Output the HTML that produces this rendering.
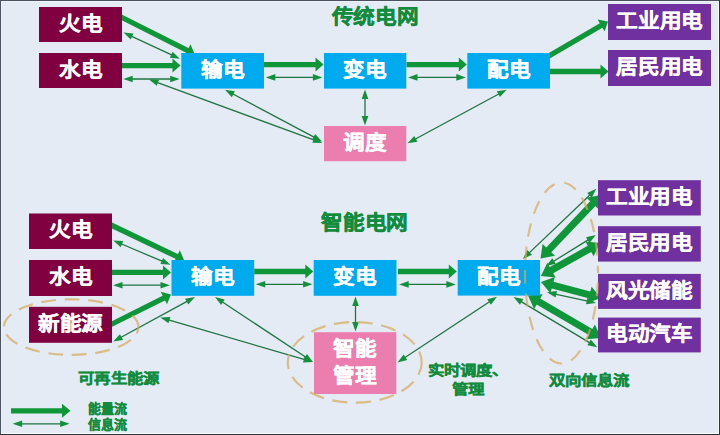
<!DOCTYPE html>
<html lang="zh-CN"><head><meta charset="utf-8"><title>传统电网与智能电网</title>
<style>
html,body{margin:0;padding:0;background:#e5ebf5;}
body{width:720px;height:435px;overflow:hidden;position:relative;}
svg{display:block;position:absolute;left:0;top:0;font-family:"Liberation Sans",sans-serif;}
</style></head><body>
<svg width="720" height="435" viewBox="0 0 720 435">
<rect x="0" y="0" width="720" height="435" fill="#e5ebf5"/>
<text x="0" y="7.78" transform="translate(375 16.6) scale(1 0.95)" font-size="21.6" fill="#128b3d" stroke="#128b3d" stroke-width="0.5" font-weight="bold" text-anchor="middle">传统电网</text>
<line x1="121.00" y1="17.00" x2="188.25" y2="50.85" stroke="#0f9639" stroke-width="5.3"/>
<polygon points="194.50,54.00 184.21,56.66 190.50,44.15" fill="#0f9639"/>
<line x1="131.21" y1="36.19" x2="172.09" y2="55.21" stroke="#1f7440" stroke-width="1.3"/>
<polygon points="179.80,58.80 169.79,57.78 172.58,51.80" fill="#13903b"/>
<polygon points="123.50,32.60 133.51,33.62 130.72,39.60" fill="#13903b"/>
<line x1="122.00" y1="65.60" x2="173.50" y2="65.60" stroke="#0f9639" stroke-width="5.3"/>
<polygon points="180.50,65.60 172.50,72.60 172.50,58.60" fill="#0f9639"/>
<line x1="131.70" y1="79.00" x2="171.20" y2="79.00" stroke="#1f7440" stroke-width="1.3"/>
<polygon points="179.70,79.00 170.20,82.30 170.20,75.70" fill="#13903b"/>
<polygon points="123.20,79.00 132.70,75.70 132.70,82.30" fill="#13903b"/>
<line x1="156.98" y1="82.42" x2="314.42" y2="140.08" stroke="#1f7440" stroke-width="1.3"/>
<polygon points="322.40,143.00 312.34,142.83 314.61,136.63" fill="#13903b"/>
<polygon points="149.00,79.50 159.06,79.67 156.79,85.87" fill="#13903b"/>
<line x1="232.50" y1="93.79" x2="314.50" y2="137.41" stroke="#1f7440" stroke-width="1.3"/>
<polygon points="322.00,141.40 312.06,139.85 315.16,134.02" fill="#13903b"/>
<polygon points="225.00,89.80 234.94,91.35 231.84,97.18" fill="#13903b"/>
<line x1="264.00" y1="64.60" x2="316.50" y2="64.60" stroke="#0f9639" stroke-width="5.3"/>
<polygon points="323.50,64.60 315.50,71.60 315.50,57.60" fill="#0f9639"/>
<line x1="274.30" y1="77.40" x2="313.90" y2="77.40" stroke="#1f7440" stroke-width="1.3"/>
<polygon points="322.40,77.40 312.90,80.70 312.90,74.10" fill="#13903b"/>
<polygon points="265.80,77.40 275.30,74.10 275.30,80.70" fill="#13903b"/>
<line x1="406.50" y1="64.60" x2="459.80" y2="64.60" stroke="#0f9639" stroke-width="5.3"/>
<polygon points="466.80,64.60 458.80,71.60 458.80,57.60" fill="#0f9639"/>
<line x1="416.50" y1="77.40" x2="457.30" y2="77.40" stroke="#1f7440" stroke-width="1.3"/>
<polygon points="465.80,77.40 456.30,80.70 456.30,74.10" fill="#13903b"/>
<polygon points="408.00,77.40 417.50,74.10 417.50,80.70" fill="#13903b"/>
<line x1="365.00" y1="98.10" x2="365.00" y2="116.90" stroke="#1f7440" stroke-width="1.3"/>
<polygon points="365.00,125.40 361.70,115.90 368.30,115.90" fill="#13903b"/>
<polygon points="365.00,89.60 368.30,99.10 361.70,99.10" fill="#13903b"/>
<line x1="414.98" y1="139.26" x2="499.22" y2="93.74" stroke="#1f7440" stroke-width="1.3"/>
<polygon points="506.70,89.70 499.91,97.12 496.77,91.31" fill="#13903b"/>
<polygon points="407.50,143.30 414.29,135.88 417.43,141.69" fill="#13903b"/>
<line x1="548.00" y1="56.50" x2="601.95" y2="25.03" stroke="#0f9639" stroke-width="5.3"/>
<polygon points="608.00,21.50 604.62,31.58 597.56,19.48" fill="#0f9639"/>
<line x1="550.00" y1="71.50" x2="601.50" y2="71.50" stroke="#0f9639" stroke-width="5.3"/>
<polygon points="608.50,71.50 600.50,78.50 600.50,64.50" fill="#0f9639"/>
<rect x="39" y="7" width="83.00" height="35.00" fill="#800040"/>
<text x="0" y="7.78" transform="translate(80.5 23.4) scale(1 0.93)" font-size="21.6" fill="#fff" stroke="#fff" stroke-width="0.35" font-weight="bold" text-anchor="middle">火电</text>
<rect x="39" y="53" width="83.00" height="35.00" fill="#800040"/>
<text x="0" y="7.78" transform="translate(80.5 69.4) scale(1 0.93)" font-size="21.6" fill="#fff" stroke="#fff" stroke-width="0.35" font-weight="bold" text-anchor="middle">水电</text>
<rect x="181.3" y="53" width="82.70" height="35.60" fill="#00aaee"/>
<text x="0" y="7.78" transform="translate(222.65 69.7) scale(1 0.93)" font-size="21.6" fill="#fff" stroke="#fff" stroke-width="0.35" font-weight="bold" text-anchor="middle">输电</text>
<rect x="324" y="53" width="82.30" height="35.60" fill="#00aaee"/>
<text x="0" y="7.78" transform="translate(365.15 69.7) scale(1 0.93)" font-size="21.6" fill="#fff" stroke="#fff" stroke-width="0.35" font-weight="bold" text-anchor="middle">变电</text>
<rect x="467.3" y="53" width="82.70" height="35.60" fill="#00aaee"/>
<text x="0" y="7.78" transform="translate(508.65 69.7) scale(1 0.93)" font-size="21.6" fill="#fff" stroke="#fff" stroke-width="0.35" font-weight="bold" text-anchor="middle">配电</text>
<rect x="324" y="126" width="82.30" height="35.20" fill="#eb7eae"/>
<text x="0" y="7.78" transform="translate(365.15 142.5) scale(1 0.93)" font-size="21.6" fill="#fff" stroke="#fff" stroke-width="0.35" font-weight="bold" text-anchor="middle">调度</text>
<rect x="608" y="4" width="103.00" height="36.00" fill="#7030a0"/>
<text x="0" y="7.78" transform="translate(659.5 20.9) scale(1 0.93)" font-size="21.6" fill="#fff" stroke="#fff" stroke-width="0.35" font-weight="bold" text-anchor="middle">工业用电</text>
<rect x="608" y="50" width="103.00" height="36.00" fill="#7030a0"/>
<text x="0" y="7.78" transform="translate(659.5 66.9) scale(1 0.93)" font-size="21.6" fill="#fff" stroke="#fff" stroke-width="0.35" font-weight="bold" text-anchor="middle">居民用电</text>
<text x="0" y="7.78" transform="translate(364.5 222.2) scale(1 0.95)" font-size="21.6" fill="#128b3d" stroke="#128b3d" stroke-width="0.5" font-weight="bold" text-anchor="middle">智能电网</text>
<text x="0" y="5.90" transform="translate(118.6 378.2) scale(1 0.86)" font-size="16.4" fill="#128b3d" stroke="#128b3d" stroke-width="0.4" font-weight="bold" text-anchor="middle">可再生能源</text>
<text x="0" y="5.90" transform="translate(468 369.7) scale(1 0.86)" font-size="16.4" fill="#128b3d" stroke="#128b3d" stroke-width="0.4" font-weight="bold" text-anchor="middle">实时调度、</text>
<text x="0" y="5.90" transform="translate(468.3 388.7) scale(1 0.86)" font-size="16.4" fill="#128b3d" stroke="#128b3d" stroke-width="0.4" font-weight="bold" text-anchor="middle">管理</text>
<text x="0" y="5.90" transform="translate(589 380) scale(1 0.86)" font-size="16.4" fill="#128b3d" stroke="#128b3d" stroke-width="0.4" font-weight="bold" text-anchor="middle">双向信息流</text>
<line x1="11.00" y1="410.80" x2="63.00" y2="410.80" stroke="#0f9639" stroke-width="5.3"/>
<polygon points="70.50,410.80 62.00,417.80 62.00,403.80" fill="#0f9639"/>
<line x1="21.10" y1="423.80" x2="61.10" y2="423.80" stroke="#1f7440" stroke-width="1.3"/>
<polygon points="69.60,423.80 60.10,427.10 60.10,420.50" fill="#13903b"/>
<polygon points="12.60,423.80 22.10,420.50 22.10,427.10" fill="#13903b"/>
<text x="0" y="4.68" transform="translate(107.5 408.7) scale(1 1.0)" font-size="13" fill="#128b3d" stroke="#128b3d" stroke-width="0.25" font-weight="bold" text-anchor="middle">能量流</text>
<text x="0" y="4.68" transform="translate(107.5 424.6) scale(1 1.0)" font-size="13" fill="#128b3d" stroke="#128b3d" stroke-width="0.25" font-weight="bold" text-anchor="middle">信息流</text>
<line x1="111.00" y1="225.00" x2="177.69" y2="256.97" stroke="#0f9639" stroke-width="5.3"/>
<polygon points="184.00,260.00 173.76,262.85 179.81,250.23" fill="#0f9639"/>
<line x1="121.02" y1="243.73" x2="162.68" y2="261.47" stroke="#1f7440" stroke-width="1.3"/>
<polygon points="170.50,264.80 160.47,264.11 163.05,258.04" fill="#13903b"/>
<polygon points="113.20,240.40 123.23,241.09 120.65,247.16" fill="#13903b"/>
<line x1="112.00" y1="272.40" x2="164.00" y2="272.40" stroke="#0f9639" stroke-width="5.3"/>
<polygon points="171.00,272.40 163.00,279.40 163.00,265.40" fill="#0f9639"/>
<line x1="121.50" y1="285.20" x2="161.50" y2="285.20" stroke="#1f7440" stroke-width="1.3"/>
<polygon points="170.00,285.20 160.50,288.50 160.50,281.90" fill="#13903b"/>
<polygon points="113.00,285.20 122.50,281.90 122.50,288.50" fill="#13903b"/>
<line x1="111.00" y1="324.50" x2="164.74" y2="297.63" stroke="#0f9639" stroke-width="5.3"/>
<polygon points="171.00,294.50 166.98,304.34 160.71,291.82" fill="#0f9639"/>
<line x1="120.66" y1="337.53" x2="187.54" y2="301.07" stroke="#1f7440" stroke-width="1.3"/>
<polygon points="195.00,297.00 188.24,304.44 185.08,298.65" fill="#13903b"/>
<polygon points="113.20,341.60 119.96,334.16 123.12,339.95" fill="#13903b"/>
<line x1="168.46" y1="319.88" x2="304.84" y2="359.62" stroke="#1f7440" stroke-width="1.3"/>
<polygon points="313.00,362.00 302.96,362.51 304.80,356.17" fill="#13903b"/>
<polygon points="160.30,317.50 170.34,316.99 168.50,323.33" fill="#13903b"/>
<line x1="222.08" y1="301.70" x2="305.92" y2="357.30" stroke="#1f7440" stroke-width="1.3"/>
<polygon points="313.00,362.00 303.26,359.50 306.91,354.00" fill="#13903b"/>
<polygon points="215.00,297.00 224.74,299.50 221.09,305.00" fill="#13903b"/>
<line x1="254.20" y1="271.50" x2="306.30" y2="271.50" stroke="#0f9639" stroke-width="5.3"/>
<polygon points="313.30,271.50 305.30,278.50 305.30,264.50" fill="#0f9639"/>
<line x1="264.20" y1="284.30" x2="304.10" y2="284.30" stroke="#1f7440" stroke-width="1.3"/>
<polygon points="312.60,284.30 303.10,287.60 303.10,281.00" fill="#13903b"/>
<polygon points="255.70,284.30 265.20,281.00 265.20,287.60" fill="#13903b"/>
<line x1="398.00" y1="271.50" x2="449.80" y2="271.50" stroke="#0f9639" stroke-width="5.3"/>
<polygon points="456.80,271.50 448.80,278.50 448.80,264.50" fill="#0f9639"/>
<line x1="407.70" y1="284.40" x2="447.30" y2="284.40" stroke="#1f7440" stroke-width="1.3"/>
<polygon points="455.80,284.40 446.30,287.70 446.30,281.10" fill="#13903b"/>
<polygon points="399.20,284.40 408.70,281.10 408.70,287.70" fill="#13903b"/>
<line x1="355.50" y1="305.00" x2="355.50" y2="323.00" stroke="#1f7440" stroke-width="1.3"/>
<polygon points="355.50,331.50 352.20,322.00 358.80,322.00" fill="#13903b"/>
<polygon points="355.50,296.50 358.80,306.00 352.20,306.00" fill="#13903b"/>
<line x1="404.59" y1="357.82" x2="489.91" y2="301.48" stroke="#1f7440" stroke-width="1.3"/>
<polygon points="497.00,296.80 490.89,304.79 487.25,299.28" fill="#13903b"/>
<polygon points="397.50,362.50 403.61,354.51 407.25,360.02" fill="#13903b"/>
<line x1="528.95" y1="253.13" x2="590.15" y2="194.67" stroke="#1f7440" stroke-width="1.3"/>
<polygon points="596.30,188.80 591.71,197.75 587.15,192.98" fill="#13903b"/>
<polygon points="522.80,259.00 527.39,250.05 531.95,254.82" fill="#13903b"/>
<line x1="548.08" y1="250.63" x2="593.42" y2="202.97" stroke="#0f9639" stroke-width="7"/>
<polygon points="601.00,195.00 598.89,209.55 586.57,197.84" fill="#0f9639"/>
<polygon points="540.50,258.60 542.61,244.05 554.93,255.76" fill="#0f9639"/>
<line x1="553.22" y1="261.52" x2="588.58" y2="239.58" stroke="#1f7440" stroke-width="1.3"/>
<polygon points="595.80,235.10 589.47,242.91 585.99,237.30" fill="#13903b"/>
<polygon points="546.00,266.00 552.33,258.19 555.81,263.80" fill="#13903b"/>
<line x1="550.60" y1="270.63" x2="590.40" y2="248.37" stroke="#0f9639" stroke-width="7"/>
<polygon points="600.00,243.00 593.68,256.28 585.38,241.44" fill="#0f9639"/>
<polygon points="541.00,276.00 547.32,262.72 555.62,277.56" fill="#0f9639"/>
<line x1="551.63" y1="284.83" x2="590.37" y2="295.17" stroke="#0f9639" stroke-width="7"/>
<polygon points="601.00,298.00 587.22,303.12 591.60,286.70" fill="#0f9639"/>
<polygon points="541.00,282.00 554.78,276.88 550.40,293.30" fill="#0f9639"/>
<line x1="555.30" y1="294.11" x2="587.70" y2="301.19" stroke="#1f7440" stroke-width="1.3"/>
<polygon points="596.00,303.00 586.01,304.20 587.42,297.75" fill="#13903b"/>
<polygon points="547.00,292.30 556.99,291.10 555.58,297.55" fill="#13903b"/>
<line x1="537.51" y1="301.03" x2="591.49" y2="332.47" stroke="#0f9639" stroke-width="7"/>
<polygon points="601.00,338.00 586.35,339.31 594.91,324.62" fill="#0f9639"/>
<polygon points="528.00,295.50 542.65,294.19 534.09,308.88" fill="#0f9639"/>
<line x1="520.79" y1="301.38" x2="589.91" y2="342.92" stroke="#1f7440" stroke-width="1.3"/>
<polygon points="597.20,347.30 587.36,345.24 590.76,339.58" fill="#13903b"/>
<polygon points="513.50,297.00 523.34,299.06 519.94,304.72" fill="#13903b"/>
<rect x="29" y="213.5" width="83.00" height="35.50" fill="#800040"/>
<text x="0" y="7.78" transform="translate(70.5 230.15) scale(1 0.93)" font-size="21.6" fill="#fff" stroke="#fff" stroke-width="0.35" font-weight="bold" text-anchor="middle">火电</text>
<rect x="29" y="260" width="83.00" height="36.00" fill="#800040"/>
<text x="0" y="7.78" transform="translate(70.5 276.9) scale(1 0.93)" font-size="21.6" fill="#fff" stroke="#fff" stroke-width="0.35" font-weight="bold" text-anchor="middle">水电</text>
<rect x="29" y="306.8" width="83.00" height="36.00" fill="#800040"/>
<text x="0" y="7.78" transform="translate(70.5 323.7) scale(1 0.93)" font-size="21.6" fill="#fff" stroke="#fff" stroke-width="0.35" font-weight="bold" text-anchor="middle">新能源</text>
<rect x="171.5" y="260" width="82.70" height="35.80" fill="#00aaee"/>
<text x="0" y="7.78" transform="translate(212.85 276.79999999999995) scale(1 0.93)" font-size="21.6" fill="#fff" stroke="#fff" stroke-width="0.35" font-weight="bold" text-anchor="middle">输电</text>
<rect x="313.7" y="260" width="82.80" height="35.80" fill="#00aaee"/>
<text x="0" y="7.78" transform="translate(355.1 276.79999999999995) scale(1 0.93)" font-size="21.6" fill="#fff" stroke="#fff" stroke-width="0.35" font-weight="bold" text-anchor="middle">变电</text>
<rect x="457.7" y="260" width="82.30" height="35.60" fill="#00aaee"/>
<text x="0" y="7.78" transform="translate(498.85 276.7) scale(1 0.93)" font-size="21.6" fill="#fff" stroke="#fff" stroke-width="0.35" font-weight="bold" text-anchor="middle">配电</text>
<rect x="314" y="332.2" width="82.30" height="61.80" fill="#eb7eae"/>
<text x="0" y="7.78" transform="translate(355.2 349.2) scale(1 0.93)" font-size="21.6" fill="#fff" stroke="#fff" stroke-width="0.35" font-weight="bold" text-anchor="middle">智能</text>
<text x="0" y="7.78" transform="translate(355.2 375.6) scale(1 0.93)" font-size="21.6" fill="#fff" stroke="#fff" stroke-width="0.35" font-weight="bold" text-anchor="middle">管理</text>
<rect x="598" y="180.2" width="102.80" height="35.30" fill="#7030a0"/>
<text x="0" y="7.78" transform="translate(649.4 196.75) scale(1 0.93)" font-size="21.6" fill="#fff" stroke="#fff" stroke-width="0.35" font-weight="bold" text-anchor="middle">工业用电</text>
<rect x="598" y="226.2" width="102.80" height="35.40" fill="#7030a0"/>
<text x="0" y="7.78" transform="translate(649.4 242.8) scale(1 0.93)" font-size="21.6" fill="#fff" stroke="#fff" stroke-width="0.35" font-weight="bold" text-anchor="middle">居民用电</text>
<rect x="598" y="273.9" width="102.80" height="35.00" fill="#7030a0"/>
<text x="0" y="7.78" transform="translate(649.4 290.29999999999995) scale(1 0.93)" font-size="21.6" fill="#fff" stroke="#fff" stroke-width="0.35" font-weight="bold" text-anchor="middle">风光储能</text>
<rect x="598" y="317.6" width="102.80" height="34.80" fill="#7030a0"/>
<text x="0" y="7.78" transform="translate(649.4 333.9) scale(1 0.93)" font-size="21.6" fill="#fff" stroke="#fff" stroke-width="0.35" font-weight="bold" text-anchor="middle">电动汽车</text>
<ellipse cx="71.2" cy="327.1" rx="67.3" ry="27.8" fill="none" stroke="#d6a85a" stroke-opacity="0.7" stroke-width="2.2" stroke-dasharray="14.75 8.75" stroke-dashoffset="8.0"/>
<ellipse cx="354.75" cy="362.38" rx="66.94" ry="40.32" fill="none" stroke="#d6a85a" stroke-opacity="0.7" stroke-width="2.2" stroke-dasharray="15.25 8.5" stroke-dashoffset="2.25"/>
<ellipse cx="561.5" cy="273" rx="36.5" ry="90.5" fill="none" stroke="#d6a85a" stroke-opacity="0.7" stroke-width="2.2" stroke-dasharray="13.5 10" stroke-dashoffset="13.75"/>
<rect x="1" y="1" width="1" height="433" fill="#edf2fa"/>
<rect x="1" y="1" width="718" height="1" fill="#edf2fa"/>
<rect x="1" y="433" width="718" height="1" fill="#fbfcff"/>
<rect x="718" y="1" width="1" height="433" fill="#fbfcff"/>
<rect x="0" y="0" width="720" height="1" fill="#4b5361"/>
<rect x="0" y="0" width="1" height="435" fill="#4b5361"/>
<rect x="0" y="434" width="720" height="1" fill="#2d323b"/>
<rect x="719" y="0" width="1" height="435" fill="#2d323b"/>
</svg>
</body></html>
